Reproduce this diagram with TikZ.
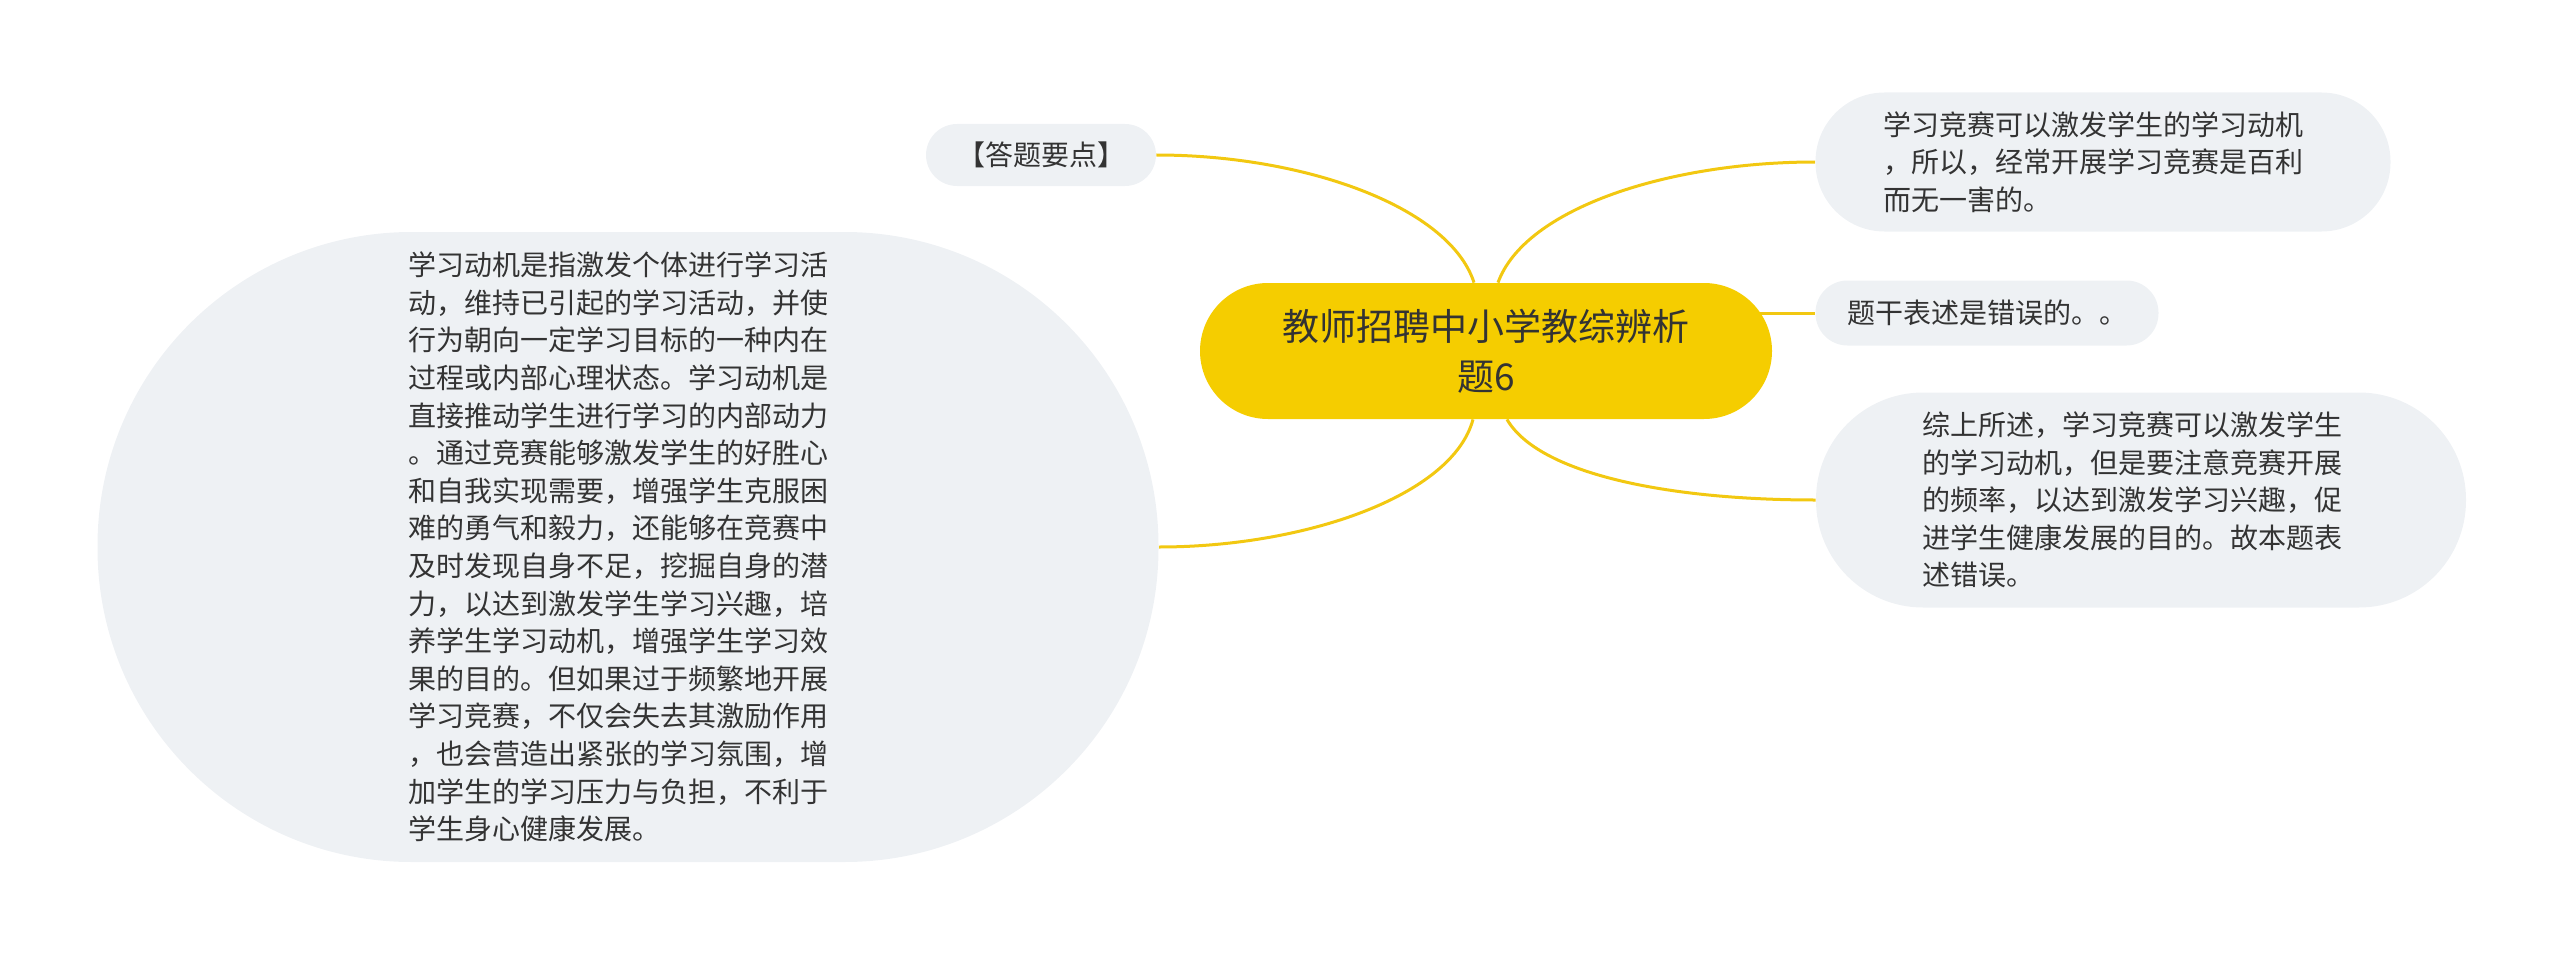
\documentclass[tikz,border=0pt]{standalone}
\usepackage{fontspec}
\setmainfont{Noto Sans CJK SC}
\usetikzlibrary{positioning,backgrounds}
\definecolor{topicyellow}{HTML}{F5CD00}
\definecolor{linkyellow}{HTML}{F2C811}
\definecolor{bubblegrey}{HTML}{EEF1F4}
\definecolor{textgrey}{HTML}{333333}

\begin{document}
\begin{tikzpicture}[x=1pt,y=-1pt,thick]
\tikzstyle{every node}=[text=textgrey,inner sep=0pt,font=\fontsize{28}{37.6}\selectfont]
\tikzstyle{bubble}=[fill=bubblegrey,align=left]
\tikzstyle{topic}=[fill=topicyellow,align=center,font=\fontsize{37}{50}\selectfont]
\tikzstyle{link}=[draw=linkyellow,line width=3pt]
\tikzstyle{arc}=[out looseness=0.6,in looseness=1.1]

\useasboundingbox (0,0) rectangle (2560,955);

\node[topic,rounded corners=68pt,minimum width=572pt,minimum height=136pt] (root) at (1486,351) {教师招聘中小学教综辨析\\题6};

\node[bubble,rounded corners=31pt,minimum width=230pt,minimum height=62pt] (tip) at (1041,155) {【答题要点】};

\node[bubble,rounded corners=69pt,minimum width=575pt,minimum height=139pt,text width=440pt] (claim) at (2103,162) {学习竞赛可以激发学生的学习动机\\，所以，经常开展学习竞赛是百利\\而无一害的。};

\node[bubble,rounded corners=32pt,minimum width=343pt,minimum height=65pt] (verdict) at (1987,313) {题干表述是错误的。。};

\node[bubble,rounded corners=107pt,minimum width=650pt,minimum height=215pt,text width=438pt] (summary) at (2141,500) {综上所述，学习竞赛可以激发学生\\的学习动机，但是要注意竞赛开展\\的频率，以达到激发学习兴趣，促\\进学生健康发展的目的。故本题表\\述错误。};

\node[bubble,rounded corners=314pt,minimum width=1061pt,minimum height=630pt,text width=440pt] (analysis) at (628,547) {学习动机是指激发个体进行学习活\\动，维持已引起的学习活动，并使\\行为朝向一定学习目标的一种内在\\过程或内部心理状态。学习动机是\\直接推动学生进行学习的内部动力\\。通过竞赛能够激发学生的好胜心\\和自我实现需要，增强学生克服困\\难的勇气和毅力，还能够在竞赛中\\及时发现自身不足，挖掘自身的潜\\力，以达到激发学生学习兴趣，培\\养学生学习动机，增强学生学习效\\果的目的。但如果过于频繁地开展\\学习竞赛，不仅会失去其激励作用\\，也会营造出紧张的学习氛围，增\\加学生的学习压力与负担，不利于\\学生身心健康发展。};

\begin{pgfonlayer}{background}
\path[link]
([xshift=-12pt]root.north) edge[arc,out=108,in=0] (tip.east)
([xshift=12pt]root.north) edge[arc,out=70,in=180] (claim.west)
(root.center |- verdict.west) edge (verdict.west)
([xshift=21pt]root.south) edge[out=-60,in=180,out looseness=0.5,in looseness=1.2] (summary.west)
([xshift=-13pt]root.south) edge[arc,out=-105,in=0] (analysis.east)
;
\end{pgfonlayer}
\end{tikzpicture}
\end{document}
